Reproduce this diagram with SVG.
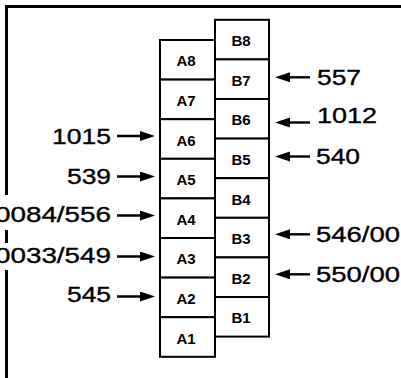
<svg xmlns="http://www.w3.org/2000/svg" width="401" height="378" viewBox="0 0 401 378">
<style>
.box{fill:#fff;stroke:#000;stroke-width:2}
.lbl{font-family:"Liberation Sans",Arial,sans-serif;font-weight:bold;font-size:15px;text-anchor:middle;fill:#000}
.num{font-family:"Liberation Sans",Arial,sans-serif;font-size:21.5px;fill:#000;stroke:#000;stroke-width:0.35}
.end{text-anchor:end}
.frame{fill:none;stroke:#000;stroke-width:3}
.arr{fill:none;stroke:#000;stroke-width:2.4;marker-end:url(#ah)}
</style>
<defs>
<marker id="ah" markerUnits="userSpaceOnUse" markerWidth="15" markerHeight="11" refX="10" refY="5" orient="auto">
<path d="M0,0 L15,5 L0,10 z" fill="#000"/>
</marker>
</defs>
<rect width="401" height="378" fill="#fff"/>
<g id="frame">
<path class="frame" d="M6.5,195 V6.5 H401"/>
<path class="frame" d="M6.5,230 V243"/>
<path class="frame" d="M6.5,270 V378"/>
</g>
<g id="A8"><rect class="box" x="160" y="40" width="55" height="39.6"/><text class="lbl" x="186" y="66.3">A8</text></g>
<g id="A7"><rect class="box" x="160" y="79.6" width="55" height="39.6"/><text class="lbl" x="186" y="105.9">A7</text></g>
<g id="A6"><rect class="box" x="160" y="119.2" width="55" height="39.6"/><text class="lbl" x="186" y="145.5">A6</text></g>
<g id="A5"><rect class="box" x="160" y="158.8" width="55" height="39.6"/><text class="lbl" x="186" y="185.1">A5</text></g>
<g id="A4"><rect class="box" x="160" y="198.4" width="55" height="39.6"/><text class="lbl" x="186" y="224.7">A4</text></g>
<g id="A3"><rect class="box" x="160" y="238" width="55" height="39.6"/><text class="lbl" x="186" y="264.3">A3</text></g>
<g id="A2"><rect class="box" x="160" y="277.6" width="55" height="39.6"/><text class="lbl" x="186" y="303.9">A2</text></g>
<g id="A1"><rect class="box" x="160" y="317.2" width="55" height="39.6"/><text class="lbl" x="186" y="343.5">A1</text></g>
<g id="B8"><rect class="box" x="215" y="19.8" width="54" height="39.6"/><text class="lbl" x="241" y="46.1">B8</text></g>
<g id="B7"><rect class="box" x="215" y="59.4" width="54" height="39.6"/><text class="lbl" x="241" y="85.7">B7</text></g>
<g id="B6"><rect class="box" x="215" y="99" width="54" height="39.6"/><text class="lbl" x="241" y="125.3">B6</text></g>
<g id="B5"><rect class="box" x="215" y="138.6" width="54" height="39.6"/><text class="lbl" x="241" y="164.9">B5</text></g>
<g id="B4"><rect class="box" x="215" y="178.2" width="54" height="39.6"/><text class="lbl" x="241" y="204.5">B4</text></g>
<g id="B3"><rect class="box" x="215" y="217.8" width="54" height="39.6"/><text class="lbl" x="241" y="244.1">B3</text></g>
<g id="B2"><rect class="box" x="215" y="257.4" width="54" height="39.6"/><text class="lbl" x="241" y="283.7">B2</text></g>
<g id="B1"><rect class="box" x="215" y="297" width="54" height="39.6"/><text class="lbl" x="241" y="323.3">B1</text></g>
<g id="connectors">
<line class="arr" x1="117" y1="136" x2="150" y2="136"/>
<line class="arr" x1="117" y1="176.5" x2="150" y2="176.5"/>
<line class="arr" x1="117" y1="215.5" x2="150" y2="215.5"/>
<line class="arr" x1="117" y1="256.5" x2="150" y2="256.5"/>
<line class="arr" x1="117" y1="296.5" x2="150" y2="296.5"/>
<line class="arr" x1="310" y1="77.3" x2="280" y2="77.3"/>
<line class="arr" x1="310" y1="122.5" x2="280" y2="122.5"/>
<line class="arr" x1="310" y1="156.5" x2="280" y2="156.5"/>
<line class="arr" x1="310" y1="234.3" x2="280" y2="234.3"/>
<line class="arr" x1="310" y1="274.3" x2="280" y2="274.3"/>
</g>
<g id="labels">
<text class="num end" x="111" y="144" textLength="59" lengthAdjust="spacingAndGlyphs">1015</text>
<text class="num end" x="111" y="183.5" textLength="44" lengthAdjust="spacingAndGlyphs">539</text>
<text class="num end" x="111" y="222" textLength="116" lengthAdjust="spacingAndGlyphs">0084/556</text>
<text class="num end" x="111" y="263" textLength="116" lengthAdjust="spacingAndGlyphs">0033/549</text>
<text class="num end" x="111" y="302" textLength="44" lengthAdjust="spacingAndGlyphs">545</text>
<text class="num" x="317" y="85" textLength="44" lengthAdjust="spacingAndGlyphs">557</text>
<text class="num" x="317" y="123.3" textLength="60" lengthAdjust="spacingAndGlyphs">1012</text>
<text class="num" x="316" y="164" textLength="44" lengthAdjust="spacingAndGlyphs">540</text>
<text class="num" x="316" y="242" textLength="84" lengthAdjust="spacingAndGlyphs">546/00</text>
<text class="num" x="316" y="282" textLength="84" lengthAdjust="spacingAndGlyphs">550/00</text>
</g>
</svg>
